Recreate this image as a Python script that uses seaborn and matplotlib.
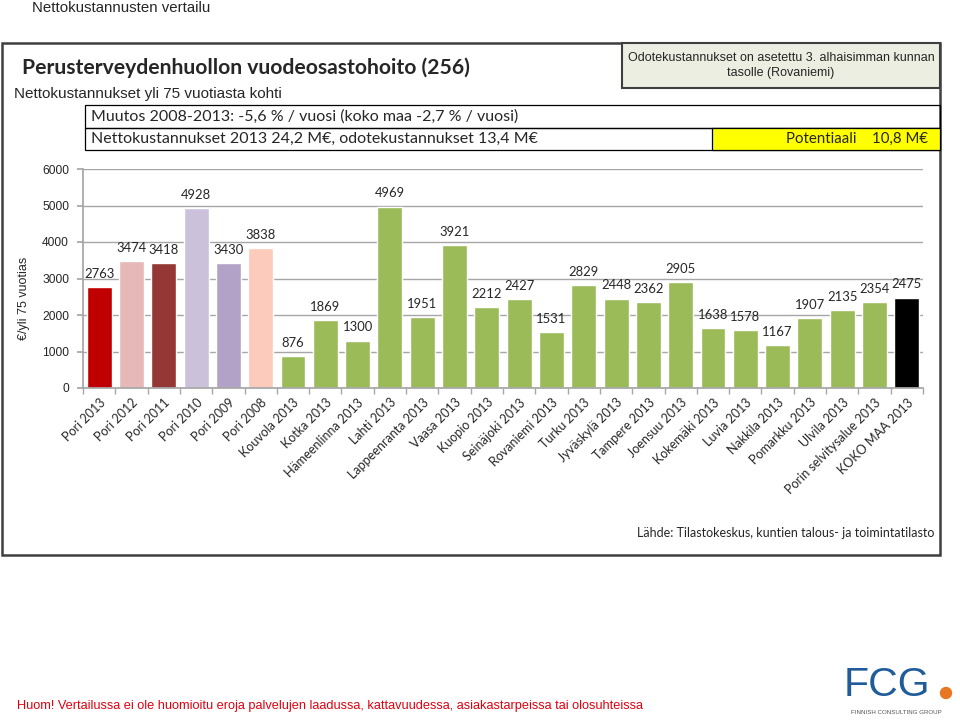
import matplotlib
matplotlib.use("Agg")
import matplotlib.pyplot as plt
import seaborn as sns
import pandas as pd
import numpy as np
from matplotlib.patches import Rectangle, Circle

kunnat = ["Pori 2013", "Pori 2012", "Pori 2011", "Pori 2010", "Pori 2009", "Pori 2008",
          "Kouvola 2013", "Kotka 2013", "Hämeenlinna 2013", "Lahti 2013", "Lappeenranta 2013",
          "Vaasa 2013", "Kuopio 2013", "Seinäjoki 2013", "Rovaniemi 2013", "Turku 2013",
          "Jyväskylä 2013", "Tampere 2013", "Joensuu 2013", "Kokemäki 2013", "Luvia 2013",
          "Nakkila 2013", "Pomarkku 2013", "Ulvila 2013", "Porin selvitysalue 2013", "KOKO MAA 2013"]
kustannus = [2763, 3474, 3418, 4928, 3430, 3838, 876, 1869, 1300, 4969, 1951, 3921, 2212,
             2427, 1531, 2829, 2448, 2362, 2905, 1638, 1578, 1167, 1907, 2135, 2354, 2475]
varit = ["#C00000", "#E6B9B8", "#953735", "#CCC1DA", "#B3A2C7", "#FCCBBC"] + ["#9BBB59"] * 19 + ["#000000"]
y_ticks = [0, 1000, 2000, 3000, 4000, 5000, 6000]

df = pd.DataFrame({"kunta": kunnat, "kustannus": kustannus})

sns.set_theme(style="white")
CAL = "Lato"
ARI = "Liberation Sans"

W, H = 960, 720
fig = plt.figure(figsize=(9.6, 7.2), dpi=100)

# taustakerros pikselikoordinaateissa
bg = fig.add_axes([0, 0, 1, 1], zorder=0)
bg.set_xlim(0, W)
bg.set_ylim(H, 0)
bg.axis("off")

def pt(px):
    return px * 0.72

bg.add_patch(Rectangle((2, 43), 938, 512, fill=False, edgecolor="#3F3F3F", lw=1.8))
bg.add_patch(Rectangle((622, 43), 318, 45, facecolor="#ECEEE1", edgecolor="#3F3F3F", lw=1.5))
bg.add_patch(Rectangle((85, 105), 855, 23, fill=False, edgecolor="#000000", lw=0.9))
bg.add_patch(Rectangle((85, 128), 855, 22, fill=False, edgecolor="#000000", lw=0.9))
bg.add_patch(Rectangle((712, 128), 228, 22, facecolor="#FFFF00", edgecolor="#000000", lw=0.9))

bg.text(32, 8, "Nettokustannusten vertailu", family=ARI, fontsize=pt(15), va="center")
bg.text(22, 68, "Perusterveydenhuollon vuodeosastohoito (256)", family=CAL, weight="bold",
        fontsize=pt(21.2), va="center")
bg.text(14, 94, "Nettokustannukset yli 75 vuotiasta kohti", family=ARI, fontsize=pt(15.3), va="center")
bg.text(91, 117, "Muutos 2008-2013: -5,6 % / vuosi (koko maa -2,7 % / vuosi)", family=CAL,
        fontsize=pt(16), va="center")
bg.text(91, 139, "Nettokustannukset 2013 24,2 M€, odotekustannukset 13,4 M€", family=CAL,
        fontsize=pt(16), va="center")
bg.text(781, 58, "Odotekustannukset on asetettu 3. alhaisimman kunnan", family=ARI,
        fontsize=pt(12.5), va="center", ha="center")
bg.text(781, 73, "tasolle (Rovaniemi)", family=ARI, fontsize=pt(12.5), va="center", ha="center")
bg.text(928, 139, "Potentiaali    10,8 M€", family=CAL, fontsize=pt(15), va="center", ha="right")
bg.text(24, 298, "€/yli 75 vuotias", family=ARI, fontsize=pt(12.5), va="center", ha="center",
        rotation=90)
bg.text(934, 533, "Lähde: Tilastokeskus, kuntien talous- ja toimintatilasto", family=CAL,
        fontsize=pt(12.5), va="center", ha="right")
bg.text(17, 706, "Huom! Vertailussa ei ole huomioitu eroja palvelujen laadussa, kattavuudessa, "
        "asiakastarpeissa tai olosuhteissa", family=ARI, fontsize=pt(12.75), va="center",
        color="#E3000F")

# FCG-logo
bg.text(844, 685, "FCG", family=ARI, fontsize=pt(41), va="center", ha="left", color="#1F5C99")
bg.add_patch(Circle((946, 693), 5.5, color="#E87722"))
bg.text(896, 713, "FINNISH CONSULTING GROUP", family=ARI, fontsize=pt(6.2), va="center",
        ha="center", color="#555555")

# pylväskaavio
ax = fig.add_axes([83 / W, 1 - 388 / H, 840 / W, 219 / H], zorder=1)
ax.set_facecolor("none")
sns.barplot(data=df, x="kunta", y="kustannus", hue="kunta", palette=varit, legend=False,
            width=0.77, saturation=1, ax=ax)
ax.set_xlim(-0.5, len(kunnat) - 0.5)
ax.set_ylim(0, 6000)
ax.set_yticks(y_ticks)
ax.set_yticklabels([str(t) for t in y_ticks], family=ARI, fontsize=pt(12))
ax.set_xlabel("")
ax.set_ylabel("")
ax.yaxis.grid(True, color="#A6A6A6", lw=1)
ax.set_axisbelow(True)
for s in ["top", "right"]:
    ax.spines[s].set_visible(False)
ax.spines["left"].set_color("#A6A6A6")
ax.spines["bottom"].set_color("#A6A6A6")
ax.tick_params(axis="y", length=4, color="#A6A6A6", pad=6, left=True)
ax.set_xticks(np.arange(len(kunnat)))
ax.set_xticks(np.arange(len(kunnat) + 1) - 0.5, minor=True)
ax.tick_params(axis="x", which="major", length=0, pad=6)
ax.tick_params(axis="x", which="minor", length=4, color="#A6A6A6", bottom=True)
ax.set_xticklabels(kunnat, rotation=45, ha="right", rotation_mode="anchor", family=CAL,
                   fontsize=pt(12.5))

for i, v in enumerate(kustannus):
    ax.annotate(str(v), (i, v), xytext=(0, 9.5), textcoords="offset points", ha="center",
                va="center", family=CAL, fontsize=pt(13))

fig.savefig("out.png", dpi=100)
